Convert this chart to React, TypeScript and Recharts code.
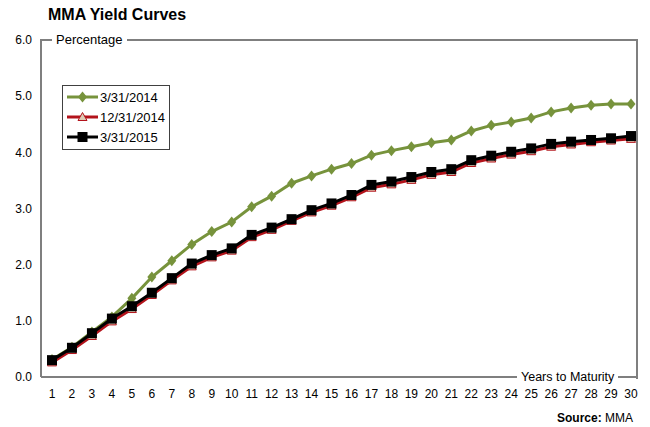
import React from "react";
import {
  LineChart,
  Line,
  XAxis,
  YAxis,
  Legend,
} from "recharts";

// Maturity buckets in years
const years = [
  "1", "2", "3", "4", "5", "6", "7", "8", "9", "10",
  "11", "12", "13", "14", "15", "16", "17", "18", "19", "20",
  "21", "22", "23", "24", "25", "26", "27", "28", "29", "30",
];

// MMA curve, percent
const curveMar2014 = [
  0.31, 0.53, 0.8, 1.07, 1.4, 1.78, 2.07, 2.36, 2.59, 2.76,
  3.03, 3.22, 3.45, 3.58, 3.7, 3.8, 3.95, 4.03, 4.1, 4.17,
  4.22, 4.38, 4.48, 4.54, 4.61, 4.72, 4.79, 4.84, 4.86, 4.86,
];

const curveDec2014 = [
  0.26, 0.48, 0.73, 0.99, 1.21, 1.46, 1.72, 1.97, 2.13, 2.25,
  2.49, 2.62, 2.78, 2.93, 3.05, 3.2, 3.37, 3.43, 3.51, 3.6,
  3.65, 3.81, 3.89, 3.96, 4.02, 4.1, 4.14, 4.18, 4.21, 4.24,
];

const curveMar2015 = [
  0.3, 0.52, 0.78, 1.04, 1.26, 1.5, 1.76, 2.02, 2.17, 2.29,
  2.53, 2.66, 2.81, 2.97, 3.09, 3.24, 3.42, 3.48, 3.56, 3.65,
  3.7, 3.86, 3.94, 4.01, 4.07, 4.15, 4.19, 4.22, 4.25, 4.29,
];

const yTicks = [0, 1, 2, 3, 4, 5, 6];

const data = years.map((year, i) => ({
  year,
  mar2014: curveMar2014[i],
  dec2014: curveDec2014[i],
  mar2015: curveMar2015[i],
}));

const FONT = "Arial, 'Liberation Sans', sans-serif";
const FRAME = "#7f7f7f";
const GREEN = "#77933c";
const RED = "#b3131b";
const TRI_FILL = "#dccab4";

const Diamond = ({ cx, cy }: any) =>
  cx == null ? null : (
    <polygon
      points={`${cx},${cy - 5.5} ${cx + 4.5},${cy} ${cx},${cy + 5.5} ${cx - 4.5},${cy}`}
      fill={GREEN}
    />
  );

const Triangle = ({ cx, cy }: any) =>
  cx == null ? null : (
    <polygon
      points={`${cx},${cy - 4.5} ${cx + 4.5},${cy + 3.5} ${cx - 4.5},${cy + 3.5}`}
      fill={TRI_FILL}
      stroke={RED}
      strokeWidth={1}
    />
  );

const Square = ({ cx, cy }: any) =>
  cx == null ? null : (
    <rect x={cx - 5} y={cy - 5} width={10} height={10} fill="#000" />
  );

const series = [
  { key: "mar2014", name: "3/31/2014", color: GREEN, Dot: Diamond },
  { key: "dec2014", name: "12/31/2014", color: RED, Dot: Triangle },
  { key: "mar2015", name: "3/31/2015", color: "#000", Dot: Square },
];

const LegendBox = () => (
  <div
    style={{
      border: "1px solid #404040",
      background: "#fff",
      width: 106,
      padding: "1px 0 2px 0",
      fontFamily: FONT,
      fontSize: 13,
      color: "#000",
    }}
  >
    {series.map((s) => (
      <div key={s.key} style={{ display: "flex", alignItems: "center", height: 20 }}>
        <svg width={35} height={14} style={{ marginLeft: 2 }}>
          <line x1={2} y1={7} x2={33} y2={7} stroke={s.color} strokeWidth={3} />
          <s.Dot cx={17.5} cy={7} />
        </svg>
        <span>{s.name}</span>
      </div>
    ))}
  </div>
);

const boxLabel: React.CSSProperties = {
  position: "absolute",
  background: "#fff",
  fontFamily: FONT,
  color: "#000",
  lineHeight: "14px",
  padding: "0 4px",
};

export default function App() {
  return (
    <div
      style={{
        position: "absolute",
        left: 0,
        top: 0,
        width: 650,
        height: 427,
        background: "#fff",
        fontFamily: FONT,
      }}
    >
      <div
        style={{
          position: "absolute",
          left: 48,
          top: 6,
          fontSize: 16,
          fontWeight: "bold",
        }}
      >
        MMA Yield Curves
      </div>

      {/* top and right edges of the plot frame */}
      <div
        style={{
          position: "absolute",
          left: 40,
          top: 39,
          width: 596,
          height: 338,
          borderTop: `2px solid ${FRAME}`,
          borderRight: `2px solid ${FRAME}`,
        }}
      />

      <div style={{ position: "absolute", left: 0, top: 0 }}>
        <LineChart
          width={650}
          height={427}
          data={data}
          margin={{ top: 40, right: 13, bottom: 0, left: 0 }}
        >
          <XAxis
            dataKey="year"
            height={50}
            padding={{ left: 11, right: 6 }}
            interval={0}
            tickLine={false}
            tickSize={0}
            tickMargin={12}
            axisLine={{ stroke: FRAME, strokeWidth: 2 }}
            tick={{ fill: "#000", fontSize: 12, fontFamily: FONT }}
          />
          <YAxis
            width={41}
            domain={[0, 6]}
            ticks={yTicks}
            tickFormatter={(v: number) => v.toFixed(1)}
            tickLine={false}
            tickSize={0}
            tickMargin={9}
            axisLine={{ stroke: FRAME, strokeWidth: 2 }}
            tick={{ fill: "#000", fontSize: 12, fontFamily: FONT }}
          />
          <Legend
            layout="vertical"
            align="center"
            verticalAlign="middle"
            wrapperStyle={{ left: 62, top: 85, width: 108 }}
            content={<LegendBox />}
          />
          {series.map((s) => (
            <Line
              key={s.key}
              type="linear"
              dataKey={s.key}
              name={s.name}
              stroke={s.color}
              strokeWidth={3}
              dot={<s.Dot />}
              activeDot={false}
              isAnimationActive={false}
            />
          ))}
        </LineChart>
      </div>

      <div style={{ ...boxLabel, left: 52, top: 33, fontSize: 13 }}>Percentage</div>
      <div style={{ ...boxLabel, left: 517, top: 370, fontSize: 12.5 }}>
        Years to Maturity
      </div>
      <div
        style={{
          position: "absolute",
          right: 17,
          top: 411,
          fontSize: 12,
          color: "#000",
        }}
      >
        <b>Source:</b> MMA
      </div>
    </div>
  );
}
